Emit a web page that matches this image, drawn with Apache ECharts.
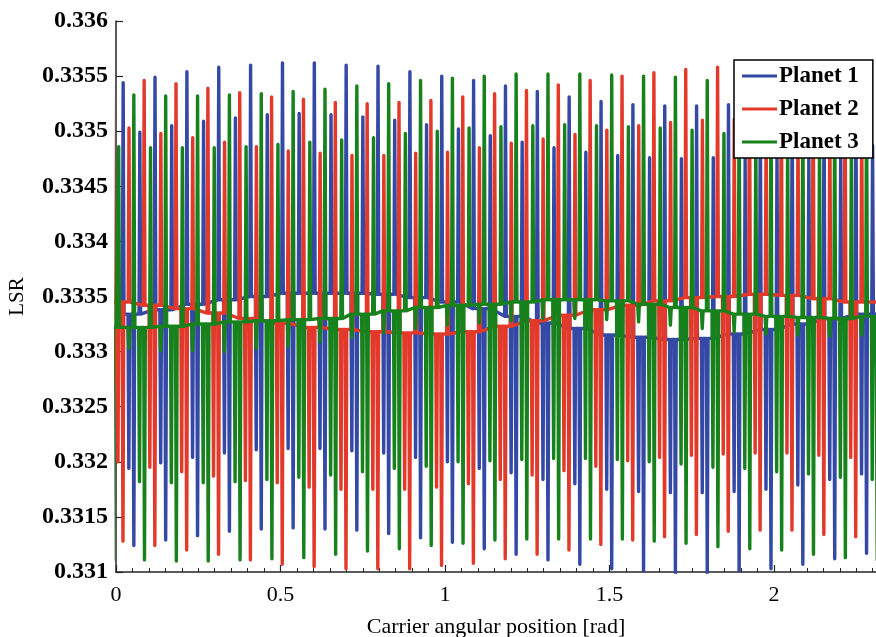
<!DOCTYPE html>
<html>
<head>
<meta charset="utf-8">
<script src="https://cdn.jsdelivr.net/npm/echarts@6/dist/echarts.min.js"></script>
<style>
html,body{margin:0;padding:0;background:#fff;}
#chart{width:876px;height:637px;}
</style>
</head>
<body>
<div id="chart"></div>
<script>
// ---- axis ticks ----
const xTickLabels = ['0', '0.5', '1', '1.5', '2'];
const yTickLabels = ['0.331', '0.3315', '0.332', '0.3325', '0.333', '0.3335', '0.334', '0.3345', '0.335', '0.3355', '0.336'];
const seriesNames = ['Planet 1', 'Planet 2', 'Planet 3'];

// spike cluster of each mesh cycle: tall peak, shallow dip, deep dip, lower peak (offsets in rad)
const spikeOffset = [0, 0.0172, 0.0324, 0.0507];
const preDipOffset = -0.0152;
const footHalfWidth = 0.0025;

// ---- Planet 1 (blue) ----
const blueX = [0.0218, 0.1186, 0.2155, 0.3123, 0.4091, 0.5060, 0.6028, 0.6996, 0.7964, 0.8933, 0.9901, 1.0869, 1.1838, 1.2806, 1.3774, 1.4743, 1.5711, 1.6679, 1.7647, 1.8616, 1.9584, 2.0552, 2.1521, 2.2489];
const blueHi = [0.33544, 0.33549, 0.33554, 0.33558, 0.33560, 0.33562, 0.33562, 0.33560, 0.33559, 0.33554, 0.33550, 0.33546, 0.33541, 0.33536, 0.33531, 0.33527, 0.33524, 0.33523, 0.33523, 0.33524, 0.33526, 0.33529, 0.33532, 0.33536];
const blueSh = [0.33194, 0.33199, 0.33204, 0.33208, 0.33211, 0.33212, 0.33212, 0.33210, 0.33208, 0.33204, 0.33200, 0.33194, 0.33190, 0.33184, 0.33180, 0.33175, 0.33173, 0.33172, 0.33172, 0.33173, 0.33175, 0.33179, 0.33184, 0.33189];
const blueDp = [0.33124, 0.33129, 0.33133, 0.33137, 0.33139, 0.33140, 0.33139, 0.33138, 0.33135, 0.33131, 0.33127, 0.33121, 0.33116, 0.33111, 0.33107, 0.33103, 0.33101, 0.33099, 0.33099, 0.33101, 0.33103, 0.33107, 0.33112, 0.33117];
const blueLo = [0.33499, 0.33505, 0.33509, 0.33512, 0.33515, 0.33516, 0.33515, 0.33513, 0.33510, 0.33506, 0.33502, 0.33496, 0.33490, 0.33485, 0.33481, 0.33478, 0.33476, 0.33475, 0.33476, 0.33477, 0.33479, 0.33480, 0.33484, 0.33487];
const blueBase = [0.33334, 0.33338, 0.33343, 0.33347, 0.33350, 0.33353, 0.33353, 0.33353, 0.33352, 0.33349, 0.33345, 0.33339, 0.33332, 0.33326, 0.33321, 0.33315, 0.33313, 0.33311, 0.33312, 0.33316, 0.33320, 0.33325, 0.33330, 0.33334];

// ---- Planet 2 (red) ----
const redX = [-0.0112, 0.0856, 0.1824, 0.2793, 0.3761, 0.4729, 0.5698, 0.6666, 0.7634, 0.8602, 0.9571, 1.0539, 1.1507, 1.2476, 1.3444, 1.4412, 1.5381, 1.6349, 1.7317, 1.8285, 1.9254, 2.0222, 2.1190, 2.2159];
const redHi = [0.33549, 0.33546, 0.33543, 0.33539, 0.33535, 0.33531, 0.33529, 0.33526, 0.33525, 0.33526, 0.33528, 0.33531, 0.33534, 0.33537, 0.33542, 0.33546, 0.33550, 0.33553, 0.33556, 0.33558, 0.33559, 0.33558, 0.33556, 0.33553];
const redSh = [0.33200, 0.33195, 0.33191, 0.33187, 0.33183, 0.33181, 0.33177, 0.33175, 0.33175, 0.33175, 0.33177, 0.33180, 0.33184, 0.33188, 0.33192, 0.33196, 0.33201, 0.33204, 0.33206, 0.33207, 0.33208, 0.33208, 0.33206, 0.33204];
const redDp = [0.33128, 0.33124, 0.33120, 0.33116, 0.33111, 0.33107, 0.33105, 0.33103, 0.33103, 0.33103, 0.33106, 0.33108, 0.33112, 0.33116, 0.33120, 0.33125, 0.33129, 0.33132, 0.33134, 0.33137, 0.33138, 0.33138, 0.33134, 0.33132];
const redLo = [0.33503, 0.33498, 0.33494, 0.33490, 0.33486, 0.33482, 0.33480, 0.33478, 0.33478, 0.33480, 0.33481, 0.33485, 0.33489, 0.33493, 0.33497, 0.33501, 0.33505, 0.33508, 0.33510, 0.33511, 0.33512, 0.33512, 0.33511, 0.33510];
const redBase = [0.33345, 0.33342, 0.33339, 0.33335, 0.33330, 0.33326, 0.33322, 0.33320, 0.33318, 0.33317, 0.33316, 0.33318, 0.33323, 0.33328, 0.33333, 0.33338, 0.33342, 0.33346, 0.33349, 0.33350, 0.33352, 0.33351, 0.33348, 0.33345];

// ---- Planet 3 (green) ----
const greenX = [-0.0426, 0.0542, 0.1510, 0.2479, 0.3447, 0.4415, 0.5384, 0.6352, 0.7320, 0.8288, 0.9257, 1.0225, 1.1193, 1.2162, 1.3130, 1.4098, 1.5067, 1.6035, 1.7003, 1.7971, 1.8940, 1.9908, 2.0876, 2.1845, 2.2813];
const greenHi = [0.33533, 0.33533, 0.33532, 0.33532, 0.33533, 0.33534, 0.33536, 0.33538, 0.33541, 0.33543, 0.33546, 0.33548, 0.33550, 0.33552, 0.33552, 0.33552, 0.33551, 0.33550, 0.33549, 0.33546, 0.33544, 0.33541, 0.33537, 0.33534, 0.33533];
const greenSh = [0.33182, 0.33182, 0.33181, 0.33181, 0.33182, 0.33184, 0.33186, 0.33188, 0.33191, 0.33194, 0.33196, 0.33200, 0.33201, 0.33202, 0.33203, 0.33203, 0.33202, 0.33200, 0.33198, 0.33195, 0.33194, 0.33191, 0.33189, 0.33186, 0.33184];
const greenDp = [0.33111, 0.33111, 0.33110, 0.33110, 0.33111, 0.33112, 0.33113, 0.33116, 0.33119, 0.33121, 0.33124, 0.33126, 0.33129, 0.33130, 0.33130, 0.33130, 0.33130, 0.33128, 0.33126, 0.33123, 0.33121, 0.33120, 0.33116, 0.33113, 0.33111];
const greenLo = [0.33486, 0.33485, 0.33485, 0.33485, 0.33486, 0.33488, 0.33490, 0.33492, 0.33494, 0.33498, 0.33500, 0.33503, 0.33504, 0.33505, 0.33506, 0.33505, 0.33504, 0.33503, 0.33501, 0.33498, 0.33496, 0.33493, 0.33491, 0.33488, 0.33486];
const greenBase = [0.33322, 0.33322, 0.33323, 0.33325, 0.33327, 0.33328, 0.33329, 0.33330, 0.33334, 0.33337, 0.33340, 0.33342, 0.33343, 0.33345, 0.33347, 0.33347, 0.33346, 0.33343, 0.33340, 0.33337, 0.33334, 0.33332, 0.33331, 0.33330, 0.33332];
// small dip of the green trace just before each tall peak
const greenPreDip = [0.33305, 0.33303, 0.33301, 0.33301, 0.33300, 0.33303, 0.33305, 0.33309, 0.33313, 0.33317, 0.33321, 0.33324, 0.33326, 0.33328, 0.33330, 0.33330, 0.33329, 0.33327, 0.33324, 0.33321, 0.33318, 0.33316, 0.33315, 0.33314, 0.33315];

const xMin = 0, xMax = 2.31;
const yMin = 0.331, yMax = 0.336;

function buildTrace(xs, hi, sh, dp, lo, base, preDip) {
  const pts = [[xMin, base[0]]];
  for (let k = 0; k < xs.length; k++) {
    if (preDip) {
      const xd = xs[k] + preDipOffset;
      pts.push([xd - footHalfWidth, base[k]], [xd, preDip[k]], [xd + footHalfWidth, base[k]]);
    }
    const vals = [hi[k], sh[k], dp[k], lo[k]];
    for (let j = 0; j < 4; j++) {
      const x = xs[k] + spikeOffset[j];
      pts.push([x - footHalfWidth, base[k]], [x, vals[j]], [x + footHalfWidth, base[k]]);
    }
  }
  pts.push([xMax, base[base.length - 1]]);
  pts.sort((a, b) => a[0] - b[0]);
  return pts;
}

const FONT = "'Liberation Serif', 'Times New Roman', serif";
const colors = ['#3448A6', '#E2392B', '#17821B'];
const traces = [
  buildTrace(blueX, blueHi, blueSh, blueDp, blueLo, blueBase, null),
  buildTrace(redX, redHi, redSh, redDp, redLo, redBase, null),
  buildTrace(greenX, greenHi, greenSh, greenDp, greenLo, greenBase, greenPreDip)
];

const chart = echarts.init(document.getElementById('chart'), null, {renderer: 'canvas'});
chart.setOption({
  animation: false,
  backgroundColor: '#fff',
  grid: {left: 116, top: 21, right: 0, bottom: 65, containLabel: false, outerBoundsMode: 'none'},
  legend: {
    orient: 'vertical',
    left: 734, top: 60, z: 20,
    data: seriesNames.map(n => ({name: n, icon: 'rect'})),
    itemWidth: 35, itemHeight: 3, itemGap: 9,
    padding: [4, 14, 4, 8],
    backgroundColor: '#fff',
    borderColor: '#000', borderWidth: 1.5,
    textStyle: {fontFamily: FONT, fontSize: 23, fontWeight: 'bold', color: '#000', lineHeight: 24, padding: [0, 0, 0, -3]}
  },
  xAxis: [{
    type: 'value', min: xMin, max: xMax, interval: 0.5,
    name: 'Carrier angular position [rad]', nameLocation: 'middle', nameGap: 44,
    nameTextStyle: {fontFamily: FONT, fontSize: 22, color: '#000'},
    axisLine: {show: true, onZero: false, lineStyle: {color: '#262626', width: 1.5}},
    axisTick: {show: true, inside: true, length: 7, lineStyle: {color: '#262626', width: 1.2}},
    axisLabel: {
      fontFamily: FONT, fontSize: 22, color: '#000', margin: 12, showMaxLabel: false,
      formatter: v => { const s = xTickLabels.find(t => Math.abs(parseFloat(t) - v) < 1e-6); return s === undefined ? '' : s; }
    },
    splitLine: {show: false}
  }, {
    type: 'value', min: xMin, max: xMax, interval: 0.05, position: 'bottom',
    axisLine: {show: false},
    axisTick: {show: true, inside: true, length: 4, lineStyle: {color: '#262626', width: 1}},
    axisLabel: {show: false},
    splitLine: {show: false}
  }],
  yAxis: {
    type: 'value', min: yMin, max: yMax, interval: 0.0005,
    name: 'LSR', nameLocation: 'middle', nameGap: 88, nameRotate: 90,
    nameTextStyle: {fontFamily: FONT, fontSize: 21, color: '#000'},
    axisLine: {show: true, lineStyle: {color: '#262626', width: 1.5}},
    axisTick: {show: true, inside: true, length: 7, lineStyle: {color: '#262626', width: 1.2}},
    axisLabel: {
      fontFamily: FONT, fontSize: 24, fontWeight: 'bold', color: '#000', margin: 8,
      formatter: v => { let best = '', bd = 1; yTickLabels.forEach(t => { const d = Math.abs(parseFloat(t) - v); if (d < bd) { bd = d; best = t; } }); return bd < 1e-7 ? best : ''; }
    },
    splitLine: {show: false}
  },
  series: traces.map((d, i) => ({
    name: seriesNames[i], type: 'line', data: d, xAxisIndex: 0,
    symbol: 'none', showSymbol: false, sampling: null, clip: true,
    lineStyle: {color: colors[i], width: 3.4, join: 'round'},
    itemStyle: {color: colors[i]},
    z: 2
  }))
});
</script>
</body>
</html>
